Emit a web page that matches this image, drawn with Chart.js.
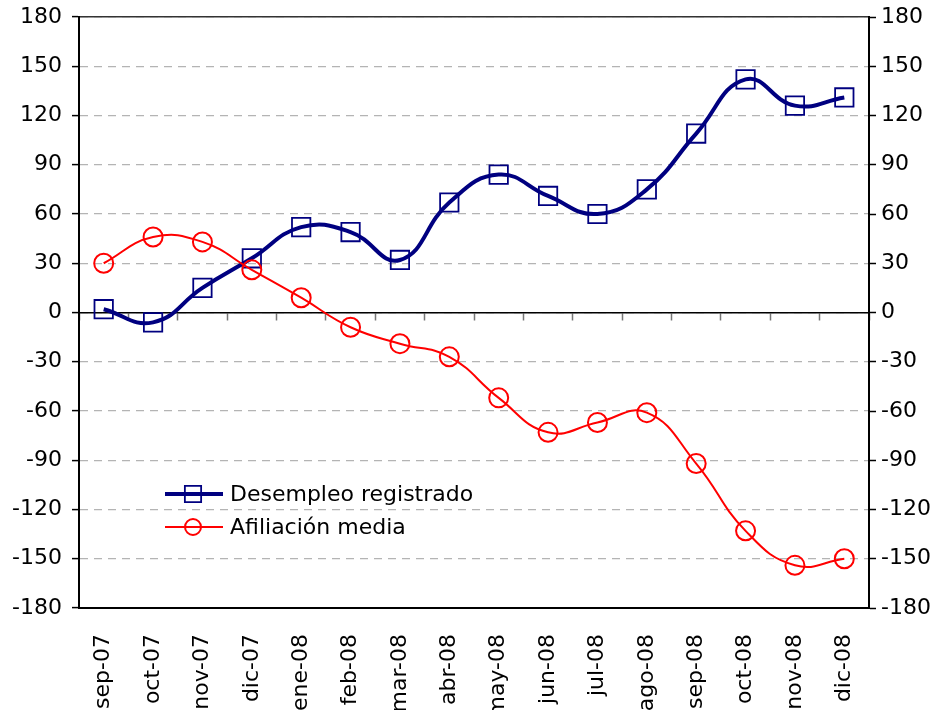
<!DOCTYPE html>
<html>
<head>
<meta charset="utf-8">
<script src="https://cdn.jsdelivr.net/npm/chart.js@4/dist/chart.umd.min.js"></script>
<style>
  html, body { margin: 0; padding: 0; background: #fff; }
</style>
</head>
<body>
<canvas id="grafico" width="940" height="710"></canvas>
<script>
// Datos
const meses = ['sep-07', 'oct-07', 'nov-07', 'dic-07', 'ene-08', 'feb-08', 'mar-08', 'abr-08',
  'may-08', 'jun-08', 'jul-08', 'ago-08', 'sep-08', 'oct-08', 'nov-08', 'dic-08'];
const desempleo = [2, -6, 15, 33, 52, 49, 32, 67, 84, 71, 60, 75, 109, 142, 126, 131];
const afiliacion = [30, 46, 43, 26, 9, -9, -19, -27, -52, -73, -67, -61, -92, -133, -154, -150];
const nombres = ['Desempleo registrado', 'Afiliación media'];
const ejeMin = -180;
const ejeMax = 180;
const ejePaso = 30;

const fuente = { family: 'DejaVu Sans', size: 22 };

// Leyenda dentro del área del gráfico
const leyendaInterior = {
  id: 'leyendaInterior',
  afterDraw(chart) {
    const ctx = chart.ctx;
    const filas = [
      { ds: chart.data.datasets[0], y: 494 },
      { ds: chart.data.datasets[1], y: 527 }
    ];
    filas.forEach(f => {
      ctx.save();
      ctx.strokeStyle = f.ds.borderColor;
      ctx.lineWidth = f.ds.borderWidth;
      ctx.beginPath();
      ctx.moveTo(165, f.y);
      ctx.lineTo(223, f.y);
      ctx.stroke();
      ctx.fillStyle = 'rgba(0,0,0,0)';
      ctx.lineWidth = f.ds.pointBorderWidth;
      Chart.helpers.drawPoint(ctx, {
        pointStyle: f.ds.pointStyle,
        radius: f.ds.pointStyle === 'rect' ? 11.5 : 8,
        borderWidth: f.ds.pointBorderWidth
      }, 193, f.y);
      ctx.fillStyle = '#000';
      ctx.font = '22px "DejaVu Sans"';
      ctx.textBaseline = 'middle';
      ctx.fillText(f.ds.label, 230, f.y + 1);
      ctx.restore();
    });
  }
};

// Quitar el margen extra que pide cada eje vertical
function ajustarEjeY(ancho) {
  return s => {
    s.width = ancho;
    s.paddingTop = 0;
    s.paddingBottom = 0;
  };
}

const grafico = new Chart(document.getElementById('grafico'), {
  type: 'line',
  data: {
    labels: meses,
    datasets: [
      {
        label: nombres[0],
        data: desempleo,
        borderColor: '#000080',
        borderWidth: 4,
        tension: 0.45,
        pointStyle: 'rect',
        pointRadius: 13,
        pointBorderWidth: 1.8,
        pointBorderColor: '#000080',
        pointBackgroundColor: 'rgba(0,0,0,0)',
        xAxisID: 'x',
        yAxisID: 'y',
        order: 1
      },
      {
        label: nombres[1],
        data: afiliacion,
        borderColor: '#ff0000',
        borderWidth: 2,
        tension: 0.45,
        pointStyle: 'circle',
        pointRadius: 9.5,
        pointBorderWidth: 2,
        pointBorderColor: '#ff0000',
        pointBackgroundColor: 'rgba(0,0,0,0)',
        xAxisID: 'x',
        yAxisID: 'y',
        order: 0
      }
    ]
  },
  options: {
    responsive: false,
    animation: false,
    layout: { padding: { top: 17, left: 0, right: 0, bottom: 0 } },
    plugins: {
      legend: { display: false },
      tooltip: { enabled: false }
    },
    scales: {
      x: {
        type: 'category',
        axis: 'x',
        position: 'bottom',
        offset: true,
        grid: { display: false },
        border: { display: true, color: '#000', width: 2 },
        ticks: {
          autoSkip: false,
          minRotation: 90,
          maxRotation: 90,
          padding: 18,
          color: '#000',
          font: fuente
        },
        afterFit(s) { s.height = 102; s.paddingLeft = 0; s.paddingRight = 0; }
      },
      xCero: {
        type: 'category',
        axis: 'x',
        position: { y: 0 },
        offset: true,
        grid: {
          display: true,
          drawOnChartArea: false,
          drawTicks: true,
          offset: true,
          tickLength: 7,
          tickWidth: 1.5,
          tickColor: '#777'
        },
        border: { display: true, color: '#000', width: 1.5 },
        ticks: { display: false }
      },
      xArriba: {
        type: 'category',
        axis: 'x',
        position: 'top',
        grid: { display: false },
        border: { display: true, color: '#333', width: 1.5 },
        ticks: { display: false },
        afterFit(s) { s.height = 0; }
      },
      y: {
        position: 'left',
        min: ejeMin,
        max: ejeMax,
        ticks: {
          stepSize: ejePaso,
          padding: 10,
          color: '#000',
          font: fuente
        },
        grid: {
          color: '#b4b4b4',
          lineWidth: 1.2,
          tickColor: '#000',
          tickLength: 7,
          tickWidth: 1.5
        },
        border: { display: true, color: '#000', width: 2, dash: [8, 6] },
        afterFit: ajustarEjeY(79)
      },
      y2: {
        position: 'right',
        min: ejeMin,
        max: ejeMax,
        ticks: {
          stepSize: ejePaso,
          padding: 5,
          color: '#000',
          font: fuente
        },
        grid: {
          drawOnChartArea: false,
          tickColor: '#000',
          tickLength: 7,
          tickWidth: 1.5
        },
        border: { display: true, color: '#000', width: 2 },
        afterFit: ajustarEjeY(71)
      }
    }
  },
  plugins: [leyendaInterior]
});
</script>
</body>
</html>
